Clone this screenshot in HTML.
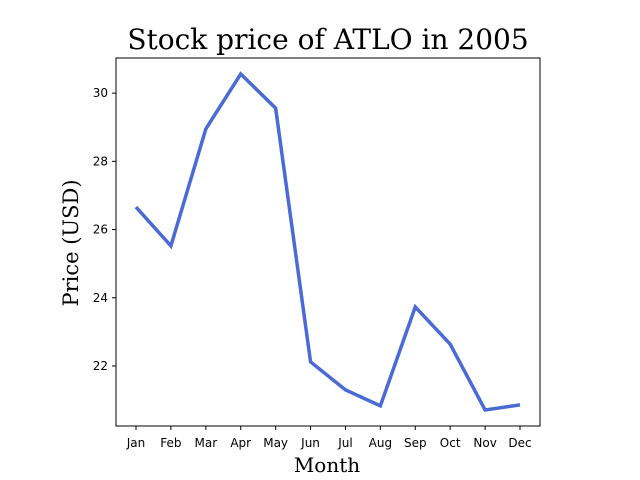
<!DOCTYPE html>
<html>
<head>
<meta charset="utf-8">
<style>
html,body{margin:0;padding:0;background:#fff;}
svg{display:block;}
</style>
</head>
<body>
<svg id="chart" width="640" height="480" xmlns="http://www.w3.org/2000/svg">
<text x="328" y="49" text-anchor="middle" font-family="'DejaVu Serif','Liberation Serif',serif" font-size="28" fill="#000">Stock price of ATLO in 2005</text>
<text x="327" y="472" text-anchor="middle" font-family="'DejaVu Serif','Liberation Serif',serif" font-size="20" fill="#000">Month</text>
<text transform="translate(78,243) rotate(-90)" text-anchor="middle" font-family="'DejaVu Serif','Liberation Serif',serif" font-size="21" fill="#000">Price (USD)</text>
<g id="plot"></g>
</svg>
<script>
const months = ["Jan","Feb","Mar","Apr","May","Jun","Jul","Aug","Sep","Oct","Nov","Dec"];
const prices = [26.66,25.52,28.95,30.56,29.56,22.12,21.30,20.83,23.73,22.64,20.71,20.86];
const yTicks = [22,24,26,28,30];

const L=116,R=540,T=58,B=426;
const yMin=20.24,yMax=31.03;
const ns="http://www.w3.org/2000/svg";
const g=document.getElementById('plot');
const xS=i=>136+i*(520-136)/(months.length-1);
const yS=v=>B-(v-yMin)/(yMax-yMin)*(B-T);
function mk(t,a){const e=document.createElementNS(ns,t);for(const k in a)e.setAttribute(k,a[k]);g.appendChild(e);return e;}

const pts=prices.map((v,i)=>xS(i)+','+yS(v)).join(' ');
const line=mk('polyline',{points:pts,fill:'none',stroke:'#4a6bd6','stroke-width':3.5,'stroke-linejoin':'miter'});



const frame=mk('rect',{x:L,y:T,width:R-L,height:B-T,fill:'none',stroke:'#000','stroke-width':1});



months.forEach((m,i)=>{
  const x=xS(i);
  const tk=mk('line',{x1:x,x2:x,y1:B,y2:B+4,stroke:'#000'});
  
  
  const t=mk('text',{x:x,y:B+21,'text-anchor':'middle','font-family':"'DejaVu Sans','Liberation Sans',sans-serif",'font-size':12});
  t.textContent=m;
  
  
});
yTicks.forEach(v=>{
  const y=yS(v);
  const tk=mk('line',{x1:L-4,x2:L,y1:y,y2:y,stroke:'#000'});
  
  
  const t=mk('text',{x:L-8,y:y+4,'text-anchor':'end','font-family':"'DejaVu Sans','Liberation Sans',sans-serif",'font-size':12});
  t.textContent=v;
  
  
});
</script>
</body>
</html>
